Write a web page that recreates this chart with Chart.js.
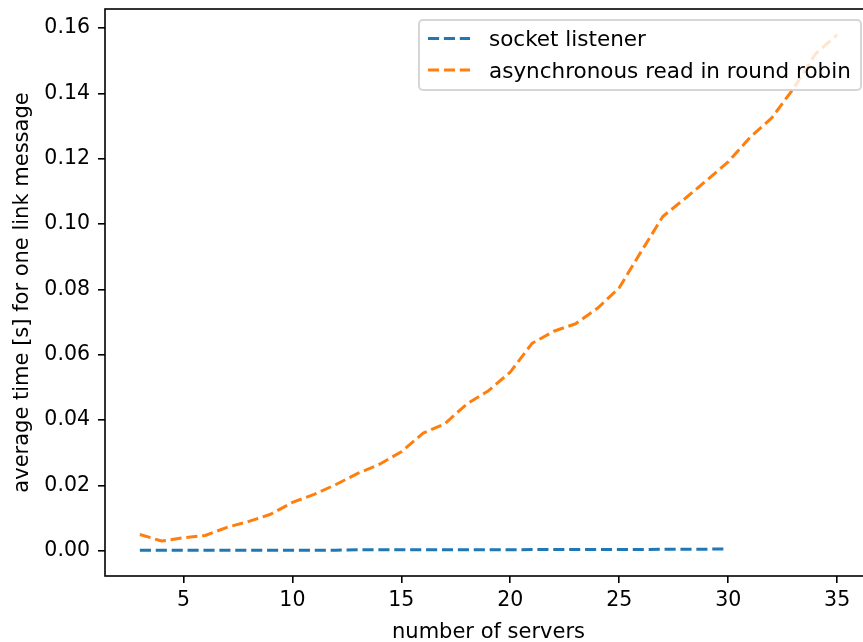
<!DOCTYPE html>
<html>
<head>
<meta charset="utf-8">
<script src="https://cdn.jsdelivr.net/npm/chart.js@4"></script>
<style>
html,body{margin:0;padding:0;overflow:hidden;background:#ffffff;}
#wrap{width:880px;height:642px;}
</style>
</head>
<body>
<div id="wrap"><canvas id="c" width="880" height="642"></canvas></div>
<script>
// ---- data ----
const servers = [3,4,5,6,7,8,9,10,11,12,13,14,15,16,17,18,19,20,21,22,23,24,25,26,27,28,29,30,31,32,33,34,35];
const asyncRoundRobin = [0.0050,0.0030,0.0040,0.0047,0.0072,0.0090,0.0112,0.0148,0.0173,0.0203,0.0237,0.0265,0.0303,0.0360,0.0389,0.0449,0.0490,0.0547,0.0635,0.0672,0.0695,0.0742,0.0805,0.0915,0.1023,0.1077,0.1133,0.1190,0.1265,0.1325,0.1415,0.1520,0.1580];
const socketServers = [3,4,5,6,7,8,9,10,11,12,13,14,15,16,17,18,19,20,21,22,23,24,25,26,27,28,29,30];
const socketListener = [0.0002,0.0002,0.0002,0.0002,0.0002,0.0002,0.0002,0.0002,0.0002,0.0002,0.0003,0.0003,0.0003,0.0003,0.0003,0.0003,0.0003,0.0003,0.0004,0.0004,0.0004,0.0004,0.0004,0.0004,0.0005,0.0005,0.0005,0.0006];
const seriesLabels = ['socket listener', 'asynchronous read in round robin'];
const xTicks = [5,10,15,20,25,30,35];
const yTicks = [0.00,0.02,0.04,0.06,0.08,0.10,0.12,0.14,0.16];
const xTitle = 'number of servers';
const yTitle = 'average time [s] for one link message';

const FONT = 'DejaVu Sans';
const tickFont = {family: FONT, size: 20.5};
const titleFont = {family: FONT, size: 21};
const legendFontSize = 21.5;

const framePlugin = {
  id: 'frameAndLegend',
  afterDatasetsDraw(chart) {
    const {ctx, chartArea: a} = chart;
    ctx.save();
    ctx.strokeStyle = '#000000';
    ctx.lineWidth = 1.6;
    ctx.setLineDash([]);
    ctx.strokeRect(a.left, a.top, a.right - a.left, a.bottom - a.top);
    ctx.restore();

    // legend (matplotlib style, upper right inside axes)
    const bx = 419, by = 20, bw = 442, bh = 70, r = 4;
    ctx.save();
    ctx.beginPath();
    ctx.moveTo(bx + r, by);
    ctx.lineTo(bx + bw - r, by);
    ctx.arcTo(bx + bw, by, bx + bw, by + r, r);
    ctx.lineTo(bx + bw, by + bh - r);
    ctx.arcTo(bx + bw, by + bh, bx + bw - r, by + bh, r);
    ctx.lineTo(bx + r, by + bh);
    ctx.arcTo(bx, by + bh, bx, by + bh - r, r);
    ctx.lineTo(bx, by + r);
    ctx.arcTo(bx, by, bx + r, by, r);
    ctx.closePath();
    ctx.fillStyle = 'rgba(255,255,255,0.8)';
    ctx.fill();
    ctx.lineWidth = 2;
    ctx.strokeStyle = 'rgba(204,204,204,0.8)';
    ctx.stroke();
    const rows = [38.5, 70];
    chart.data.datasets.forEach((ds, i) => {
      const y = rows[i];
      ctx.beginPath();
      ctx.setLineDash(ds.borderDash);
      ctx.lineWidth = ds.borderWidth;
      ctx.strokeStyle = ds.borderColor;
      ctx.lineCap = 'butt';
      ctx.moveTo(428, y);
      ctx.lineTo(470, y);
      ctx.stroke();
      ctx.setLineDash([]);
      ctx.fillStyle = '#000000';
      ctx.font = `${legendFontSize}px "${FONT}"`;
      ctx.textBaseline = 'alphabetic';
      ctx.textAlign = 'left';
      ctx.fillText(ds.label, 489, y + 7.5);
    });
    ctx.restore();
  }
};

new Chart(document.getElementById('c'), {
  type: 'line',
  data: {
    datasets: [
      {
        label: seriesLabels[0],
        data: socketServers.map((x, i) => ({x: x, y: socketListener[i]})),
        borderColor: '#1f77b4',
        borderWidth: 3,
        borderDash: [11.1, 4.8],
        borderJoinStyle: 'round',
        pointRadius: 0,
        fill: false,
        tension: 0
      },
      {
        label: seriesLabels[1],
        data: servers.map((x, i) => ({x: x, y: asyncRoundRobin[i]})),
        borderColor: '#ff7f0e',
        borderWidth: 3,
        borderDash: [11.1, 4.8],
        borderJoinStyle: 'round',
        pointRadius: 0,
        fill: false,
        tension: 0
      }
    ]
  },
  options: {
    responsive: false,
    animation: false,
    devicePixelRatio: 1,
    layout: {padding: {left: 0, top: 9, right: 8, bottom: 0}},
    plugins: {legend: {display: false}, tooltip: {enabled: false}},
    scales: {
      x: {
        type: 'linear',
        min: 1.4,
        max: 36.6,
        afterBuildTicks: s => { s.ticks = xTicks.map(v => ({value: v})); },
        afterFit: s => { s.height = 66; s.paddingLeft = 0; s.paddingRight = 0; },
        ticks: {font: tickFont, color: '#000000', padding: 5, autoSkip: false, maxRotation: 0, callback: v => String(v)},
        grid: {display: true, drawOnChartArea: false, drawTicks: true, tickLength: 7, color: '#000000', lineWidth: 1.6},
        border: {display: false},
        title: {display: true, text: xTitle, font: titleFont, color: '#000000', padding: {top: 0, bottom: -3}}
      },
      y: {
        type: 'linear',
        min: -0.0077,
        max: 0.1658,
        afterBuildTicks: s => { s.ticks = yTicks.map(v => ({value: v})); },
        afterFit: s => { s.width = 105; s.paddingTop = 0; s.paddingBottom = 0; },
        ticks: {font: tickFont, color: '#000000', padding: 8, autoSkip: false, callback: v => Number(v).toFixed(2)},
        grid: {display: true, drawOnChartArea: false, drawTicks: true, tickLength: 7, color: '#000000', lineWidth: 1.6},
        border: {display: false},
        title: {display: true, text: yTitle, font: titleFont, color: '#000000', padding: {top: 10, bottom: 0}}
      }
    }
  },
  plugins: [framePlugin]
});
</script>
</body>
</html>
